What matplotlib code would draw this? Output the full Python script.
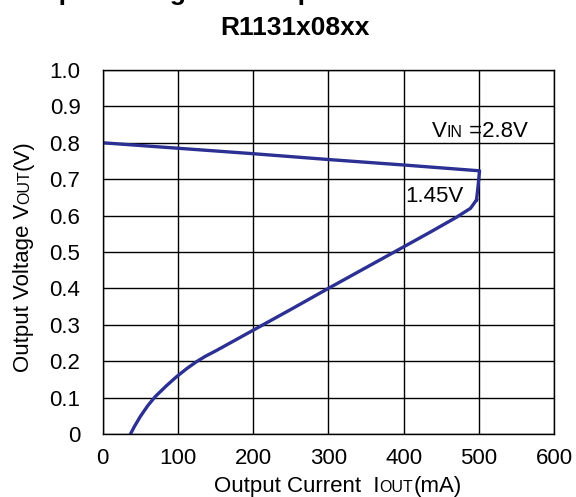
"""
Output voltage vs output current for R1131x08xx.
"""

import matplotlib
matplotlib.use("Agg")
import matplotlib.pyplot as plt
from matplotlib.transforms import IdentityTransform

# VIN = 2.8V curve (mA, V)
iout_28 = [0, 100, 200, 300, 400, 501, 499, 497]
vout_28 = [0.800, 0.785, 0.770, 0.754, 0.739, 0.723, 0.680, 0.643]

# VIN = 1.45V curve (mA, V)
iout_145 = [37, 42, 50, 60, 70, 85, 98, 112, 125, 137, 150, 165, 200, 250, 300, 350, 400, 435, 470, 489, 497]
vout_145 = [0.0, 0.02, 0.048, 0.078, 0.103, 0.133, 0.157, 0.180, 0.199, 0.214, 0.228, 0.245, 0.285, 0.342, 0.400, 0.457, 0.514, 0.554, 0.595, 0.620, 0.643]

x_ticks = [0, 100, 200, 300, 400, 500, 600]
y_ticks = [0, 0.1, 0.2, 0.3, 0.4, 0.5, 0.6, 0.7, 0.8, 0.9, 1.0]
y_tick_labels = ["0", "0.1", "0.2", "0.3", "0.4", "0.5", "0.6", "0.7", "0.8", "0.9", "1.0"]

line_color = "#2b3092"
big = 16
small = 11.5

plt.rcParams["font.family"] = ["Liberation Sans", "DejaVu Sans"]


def rich_text(fig, x, y, parts, rotation=0, center=True):
    """Place text pieces of different sizes one after another (pixel coords)."""
    renderer = fig.canvas.get_renderer()
    texts = []
    sizes = []
    for s, size in parts:
        t = fig.text(0, 0, s, fontsize=size, ha="left", va="baseline",
                     rotation=rotation, rotation_mode="anchor",
                     transform=IdentityTransform())
        bb = t.get_window_extent(renderer)
        texts.append(t)
        sizes.append(bb.height if rotation else bb.width)
    pos = (y if rotation else x) - (sum(sizes) / 2 if center else 0)
    for t, w in zip(texts, sizes):
        t.set_position((x, pos) if rotation else (pos, y))
        pos += w
    return texts


fig = plt.figure(figsize=(5.76, 4.97), dpi=100)
ax = fig.add_axes([0.1783, 0.1268, 0.7835, 0.7324])

ax.plot(iout_28, vout_28, color=line_color, linewidth=2.4, solid_joinstyle="round")
ax.plot(iout_145, vout_145, color=line_color, linewidth=2.4, solid_joinstyle="round")

ax.set_xlim(0, 600)
ax.set_ylim(0, 1.0)
ax.set_xticks(x_ticks)
ax.set_yticks(y_ticks)
ax.set_yticklabels(y_tick_labels)
ax.tick_params(length=0, labelsize=big)
ax.tick_params(axis="x", pad=10)
ax.tick_params(axis="y", pad=16)
ax.grid(True, color="black", linewidth=1.0)
for spine in ax.spines.values():
    spine.set_color("black")
    spine.set_linewidth(1.0)

ax.text(402, 0.652, "1.45V", fontsize=big, ha="left", va="center")

H = 497
# axis labels with small caps subscripts
rich_text(fig, 338, H - 492, [("Output Current  I", big), ("OUT", small), ("(mA)", big)])
rich_text(fig, 29, H - 256, [("Output Voltage V", big), ("OUT", small), ("(V)", big)], rotation=90)
rich_text(fig, 432, H - 137, [("V", big), ("IN", small), (" =2.8V", big)], center=False)

# title, first line cut off at the top edge
fig.text(13 / 576, 1.0, "Output Voltage vs. Output Current", fontsize=19,
         fontweight="bold", ha="left", va="baseline")
fig.text(295 / 576, 1 - 35 / H, "R1131x08xx", fontsize=19, fontweight="bold",
         ha="center", va="baseline")

fig.savefig("out.png", dpi=100)
